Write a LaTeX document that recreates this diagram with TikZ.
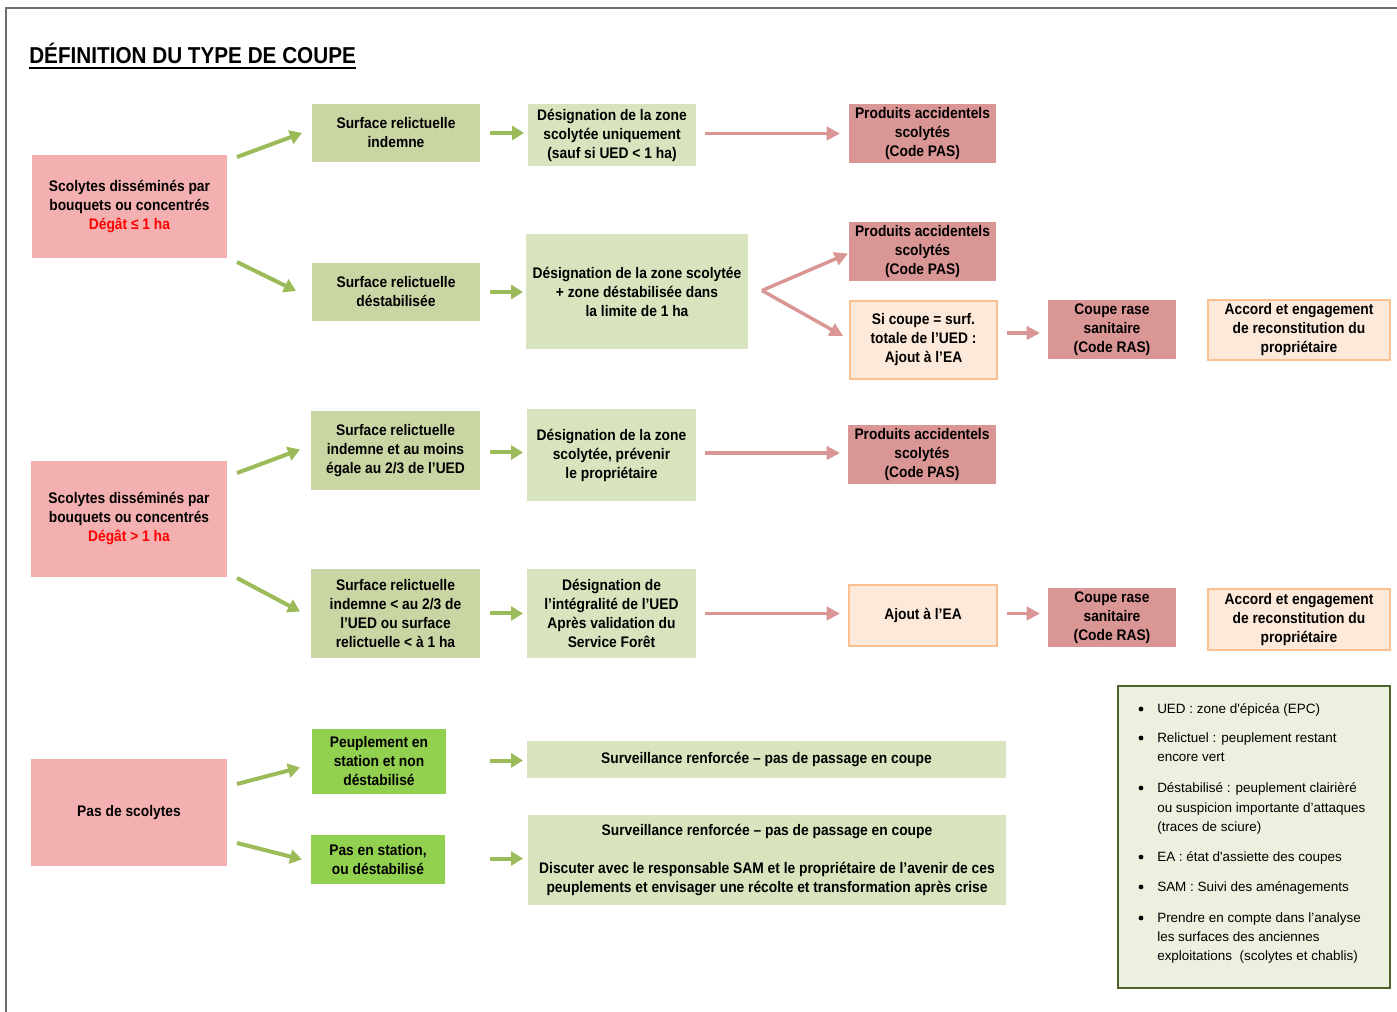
\documentclass[tikz,border=0pt]{standalone}
\usepackage{fontspec}
\setmainfont{Liberation Sans}
\newfontfamily\cf[FakeStretch=0.9]{Liberation Sans}
\newfontfamily\lf{Liberation Sans}
\usetikzlibrary{arrows.meta,calc}
\definecolor{cPinkA}{RGB}{244,176,177}
\definecolor{cOlive}{RGB}{202,213,164}
\definecolor{cLGreen}{RGB}{216,228,190}
\definecolor{cDPink}{RGB}{218,150,148}
\definecolor{cOrFill}{RGB}{253,233,217}
\definecolor{cOrLine}{RGB}{250,192,144}
\definecolor{cBGreen}{RGB}{146,208,80}
\definecolor{cGArrow}{RGB}{155,187,89}
\definecolor{cPArrow}{RGB}{218,150,148}
\definecolor{cLegFill}{RGB}{235,241,222}
\definecolor{cLegLine}{RGB}{79,98,40}
\definecolor{cFrame}{RGB}{110,110,110}
\definecolor{cRed}{RGB}{255,0,0}
\newcommand\mybox[7]{\node[#2, minimum width={(#5-#3)*0.75pt}, minimum height={(#6-#4)*0.75pt}] (#1) at ({(#3+#5)/2},{(#4+#6)/2}) {#7};}
\begin{document}
\begin{tikzpicture}[x=0.75pt,y=-0.75pt,
  box/.style={inner sep=0pt, outer sep=0pt, align=center, font=\cf\bfseries\fontsize{11.5}{14.25}\selectfont, text=black},
  pinka/.style={box, fill=cPinkA},
  olive/.style={box, fill=cOlive},
  lgreen/.style={box, fill=cLGreen},
  dpink/.style={box, fill=cDPink},
  orng/.style={box, fill=cOrFill, draw=cOrLine, line width=1.4pt},
  bgreen/.style={box, fill=cBGreen},
  legbox/.style={inner sep=0pt, outer sep=0pt, fill=cLegFill, draw=cLegLine, line width=1.4pt},
  legtext/.style={inner sep=0pt, anchor=west, font=\lf\fontsize{10.1}{14}\selectfont, text height=7.5pt, text depth=2pt},
  legdot/.style={circle, fill=black, inner sep=0pt, minimum size=3.6pt},
  garrow/.style={draw=cGArrow, line width=3pt, -{Triangle[length=9pt,width=10.5pt]}},
  parrow/.style={draw=cPArrow, line width=2.6pt, -{Triangle[length=10pt,width=10pt]}}
]
\useasboundingbox (0,0) rectangle (1397,1012);
\draw[cFrame, line width=2pt] (6,1012) -- (6,8) -- (1397,8);

\node[anchor=base west, inner sep=0pt, font=\cf\bfseries\fontsize{17.25}{20}\selectfont] (title) at (29,64) {DÉFINITION DU TYPE DE COUPE};
\draw[line width=1.5pt] ($(title.base west)+(0,4)$) -- ($(title.base east)+(0,4)$);

% Row 1
\mybox{A1}{pinka}{32}{155}{227}{258}{Scolytes disséminés par\\bouquets ou concentrés\\\textcolor{cRed}{Dégât ≤ 1 ha}}
\mybox{B1}{olive}{312}{104}{480}{162}{Surface relictuelle\\indemne}
\mybox{B2}{olive}{312}{263}{480}{321}{Surface relictuelle\\déstabilisée}
\mybox{C1}{lgreen}{528}{104}{696}{166}{Désignation de la zone\\scolytée uniquement\\(sauf si UED < 1 ha)}
\mybox{C2}{lgreen}{526}{234}{748}{349}{Désignation de la zone scolytée\\+ zone déstabilisée dans\\la limite de 1 ha}
\mybox{D1}{dpink}{849}{104}{996}{163}{Produits accidentels\\scolytés\\(Code PAS)}
\mybox{D2}{dpink}{849}{222}{996}{281}{Produits accidentels\\scolytés\\(Code PAS)}
\mybox{D3}{orng}{850}{301}{997}{379}{Si coupe = surf.\\totale de l’UED :\\Ajout à l’EA}
\mybox{E1}{dpink}{1048}{300}{1176}{359}{Coupe rase\\sanitaire\\(Code RAS)}
\mybox{F1}{orng}{1208}{300}{1390}{360}{Accord et engagement\\de reconstitution du\\propriétaire}

% Row 2
\mybox{A2}{pinka}{31}{461}{227}{577}{Scolytes disséminés par\\bouquets ou concentrés\\\textcolor{cRed}{Dégât > 1 ha}}
\mybox{B3}{olive}{311}{411}{480}{490}{Surface relictuelle\\indemne et au moins\\égale au 2/3 de l’UED}
\mybox{B4}{olive}{311}{569}{480}{658}{Surface relictuelle\\indemne < au 2/3 de\\l’UED ou surface\\relictuelle < à 1 ha}
\mybox{C3}{lgreen}{527}{409}{696}{501}{Désignation de la zone\\scolytée, prévenir\\le propriétaire}
\mybox{C4}{lgreen}{527}{569}{696}{658}{Désignation de\\l’intégralité de l’UED\\Après validation du\\Service Forêt}
\mybox{D4}{dpink}{848}{425}{996}{484}{Produits accidentels\\scolytés\\(Code PAS)}
\mybox{D5}{orng}{849}{585}{997}{646}{Ajout à l’EA}
\mybox{E2}{dpink}{1048}{588}{1176}{647}{Coupe rase\\sanitaire\\(Code RAS)}
\mybox{F2}{orng}{1208}{589}{1390}{650}{Accord et engagement\\de reconstitution du\\propriétaire}

% Row 3
\mybox{A3}{pinka}{31}{759}{227}{866}{Pas de scolytes}
\mybox{G1}{bgreen}{312}{729}{446}{794}{Peuplement en\\station et non\\déstabilisé}
\mybox{G2}{bgreen}{311}{835}{445}{884}{Pas en station,\\ou déstabilisé}
\mybox{H1}{lgreen}{527}{741}{1006}{778}{Surveillance renforcée – pas de passage en coupe}
\mybox{H2}{lgreen}{528}{815}{1006}{905}{Surveillance renforcée – pas de passage en coupe\\[14.25pt]Discuter avec le responsable SAM et le propriétaire de l’avenir de ces\\peuplements et envisager une récolte et transformation après crise}

% arrows row 1
\draw[garrow] ($(A1.north east)+(10,2)$) -- ($(B1.west)+(-10,0)$);
\draw[garrow] ($(A1.south east)+(10,4)$) -- ($(B2.west)+(-16,-1)$);
\draw[garrow] ($(B1.east)+(10,0)$) -- ($(C1.west |- B1.east)+(-4,0)$);
\draw[garrow] ($(B2.east)+(10,0)$) -- ($(C2.west |- B2.east)+(-3,0)$);
\draw[parrow] ($(C1.east |- D1.west)+(9,0)$) -- ($(D1.west)+(-9,0)$);
\draw[parrow] ($(C2.east)+(14,-1)$) -- ($(D2.west)+(-1,2)$);
\draw[parrow] ($(C2.east)+(14,-1)$) -- ($(D3.west)+(-7,-4)$);
\draw[parrow] ($(D3.east)+(10,-7)$) -- ($(E1.west |- D3.east)+(-8,-7)$);

% arrows row 2
\draw[garrow] ($(A2.north east)+(10,12)$) -- ($(B3.west)+(-11,-1)$);
\draw[garrow] ($(A2.south east)+(10,1)$) -- ($(B4.west)+(-11,-2)$);
\draw[garrow] ($(B3.east)+(10,2)$) -- ($(C3.west |- B3.east)+(-4,2)$);
\draw[garrow] ($(B4.east)+(10,0)$) -- ($(C4.west |- B4.east)+(-4,0)$);
\draw[parrow] ($(C3.east)+(9,-2)$) -- ($(D4.west |- C3.east)+(-8,-2)$);
\draw[parrow] ($(C4.east)+(9,0)$) -- ($(D5.west |- C4.east)+(-9,0)$);
\draw[parrow] ($(D5.east)+(10,-2)$) -- ($(E2.west |- D5.east)+(-8,-2)$);

% arrows row 3
\draw[garrow] ($(A3.north east)+(10,25)$) -- ($(G1.west)+(-12,6)$);
\draw[garrow] ($(A3.south east)+(10,-23)$) -- ($(G2.west)+(-9,0)$);
\draw[garrow] ($(G1.east)+(44,-1)$) -- ($(H1.west |- G1.east)+(-4,-1)$);
\draw[garrow] ($(G2.east)+(45,-1)$) -- ($(H2.west |- G2.east)+(-5,-1)$);

% legend
\mybox{leg}{legbox}{1118}{686}{1390}{988}{}
\foreach \yy [count=\i] in {709,738,788,857,887,918} {\node[legdot] (dot\i) at (1141,\yy) {};}
\node[legtext] (l1) at (1157,710) {UED : zone d\textquotesingle épicéa (EPC)};
\node[legtext] (l2a) at (1157,739) {Relictuel : peuplement restant};
\node[legtext] (l2b) at (1157,758) {encore vert};
\node[legtext] (l3a) at (1157,789) {Déstabilisé : peuplement clairièré};
\node[legtext] (l3b) at (1157,809) {ou suspicion importante d’attaques};
\node[legtext] (l3c) at (1157,828) {(traces de sciure)};
\node[legtext] (l4) at (1157,858) {EA : état d\textquotesingle assiette des coupes};
\node[legtext] (l5) at (1157,888) {SAM : Suivi des aménagements};
\node[legtext] (l6a) at (1157,919) {Prendre en compte dans l’analyse};
\node[legtext] (l6b) at (1157,938) {les surfaces des anciennes};
\node[legtext] (l6c) at (1157,957) {exploitations\ \ (scolytes et chablis)};
\end{tikzpicture}
\end{document}
